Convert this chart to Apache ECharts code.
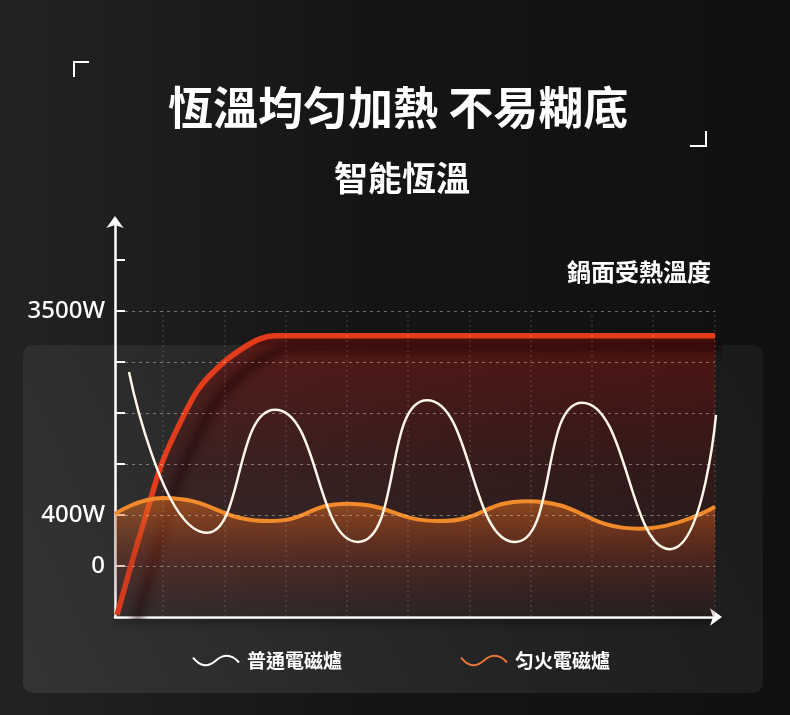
<!DOCTYPE html>
<html>
<head>
<meta charset="utf-8">
<script src="https://cdn.jsdelivr.net/npm/echarts@6/dist/echarts.min.js"></script>
<style>
  html, body { margin: 0; padding: 0; background: #141414; }
  #main { width: 790px; height: 715px; }
</style>
</head>
<body>
<div id="main"></div>
<script>
// 鍋面受熱溫度 (紅線)
var xRed = [2, 19.5, 31, 47, 70, 85, 108, 128, 145, 160, 250, 600];
var yRed = [0.04, 1.25, 2.0, 3.02, 4.0, 4.51, 4.98, 5.27, 5.45, 5.51, 5.51, 5.51];
// 普通電磁爐 (白線)
var xWhite = [14, 92, 160, 243, 312, 400, 467, 555, 601];
var yWhite = [4.80, 1.65, 4.06, 1.47, 4.25, 1.47, 4.20, 1.33, 3.96];
// 匀火電磁爐 (橙線)
var xOrange = [0, 48, 155, 232, 325, 412, 525, 600];
var yOrange = [2.02, 2.33, 1.88, 2.22, 1.88, 2.27, 1.73, 2.16];

var yTicks = [1, 2, 3, 4, 5, 6, 7];
var yLabelValues = [1, 2, 6];
var yLabelText = {1: '0', 2: '400W', 6: '3500W'};
var gridY = [1, 2, 3, 4, 5, 6];
var gridX = [48, 110, 171, 232, 293, 355, 416, 477, 538, 600];

var legendNames = ['普通電磁爐', '匀火電磁爐'];

function pairs(xs, ys) {
    return xs.map(function (x, i) { return [x, ys[i]]; });
}

var chartDom = document.getElementById('main');
var myChart = echarts.init(chartDom);
var cjk = 'Noto Sans CJK TC';
var wave = 'path://M0,3 C8,13 16,13 24,6 C32,-1 40,-1 48,8';

var markData = [];
gridY.forEach(function (v) {
    markData.push([
        {coord: [10, v], lineStyle: {color: 'rgba(255,255,255,0.38)', type: [3, 4], width: 1}},
        {coord: [600, v]}
    ]);
});
gridX.forEach(function (v) {
    markData.push([
        {coord: [v, 0], lineStyle: {color: 'rgba(255,255,255,0.10)', type: [2, 3], width: 2}},
        {coord: [v, 6]}
    ]);
});

var option = {
    animation: false,
    backgroundColor: {
        type: 'linear', x: 0, y: 0, x2: 1, y2: 0,
        colorStops: [
            {offset: 0, color: '#232323'},
            {offset: 0.45, color: '#151515'},
            {offset: 1, color: '#101010'}
        ]
    },
    graphic: [
        {
            type: 'rect', z: -10, silent: true,
            shape: {x: 23, y: 345, width: 740, height: 348, r: 10},
            style: {
                fill: {
                    type: 'linear', x: 0, y: 1, x2: 1, y2: 0,
                    colorStops: [
                        {offset: 0, color: '#343434'},
                        {offset: 0.6, color: '#222222'},
                        {offset: 1, color: '#1a1a1a'}
                    ]
                }
            }
        },
        {
            type: 'polyline', silent: true,
            shape: {points: [[74, 77], [74, 62], [89, 62]]},
            style: {stroke: '#fff', lineWidth: 2, fill: null}
        },
        {
            type: 'polyline', silent: true,
            shape: {points: [[690, 146], [706, 146], [706, 131]]},
            style: {stroke: '#fff', lineWidth: 2, fill: null}
        }
    ],
    title: [
        {
            text: '恆溫均匀加熱 不易糊底', left: 163, top: 80,
            textStyle: {color: '#fff', fontSize: 45, fontWeight: 'bold', fontFamily: cjk}
        },
        {
            text: '智能恆溫', left: 329, top: 156,
            textStyle: {color: '#fff', fontSize: 34, fontWeight: 'bold', fontFamily: cjk}
        },
        {
            text: '鍋面受熱溫度', right: 74, top: 255,
            textStyle: {color: '#fff', fontSize: 24, fontWeight: 'bold', fontFamily: cjk}
        }
    ],
    legend: {
        left: 187, top: 646,
        itemWidth: 46, itemHeight: 12, itemGap: 118,
        selectedMode: false,
        textStyle: {color: '#fff', fontSize: 19, fontWeight: 'bold', fontFamily: cjk, padding: [0, 0, 0, 3]},
        data: [
            {name: legendNames[0], icon: wave, itemStyle: {color: 'transparent', borderColor: '#ffffff', borderWidth: 2}},
            {name: legendNames[1], icon: wave, itemStyle: {color: 'transparent', borderColor: '#e8743a', borderWidth: 2}}
        ]
    },
    grid: {left: 115, right: 72, top: 220, bottom: 98},
    xAxis: {
        type: 'value', min: 0, max: 603,
        axisLine: {
            show: true, symbol: ['none', 'arrow'], symbolSize: [13, 12], symbolOffset: [0, 4],
            lineStyle: {color: '#fff', width: 2.5, shadowColor: 'rgba(0,0,0,0.6)', shadowBlur: 6, shadowOffsetY: 4}
        },
        axisTick: {show: false},
        axisLabel: {show: false},
        splitLine: {show: false}
    },
    yAxis: {
        type: 'value', min: 0, max: 7.78,
        axisLine: {
            show: true, symbol: ['none', 'arrow'], symbolSize: [13, 12], symbolOffset: [0, 4],
            lineStyle: {color: '#fff', width: 2.5}
        },
        axisTick: {show: true, inside: true, length: 10, customValues: yTicks, lineStyle: {color: '#fff', width: 2}},
        axisLabel: {
            customValues: yLabelValues, margin: 10,
            color: '#fff', fontSize: 24, fontWeight: 500, fontFamily: 'Noto Sans',
            formatter: function (v) { return yLabelText[v] || ''; }
        },
        splitLine: {show: false}
    },
    series: [
        {
            name: '鍋面受熱溫度', type: 'line', smooth: 0.3, showSymbol: false, z: 2,
            data: pairs(xRed, yRed),
            lineStyle: {color: '#e23c1c', width: 5.5, shadowColor: 'rgba(25,0,0,0.85)', shadowBlur: 10, shadowOffsetX: 18, shadowOffsetY: 12},
            areaStyle: {
                color: {
                    type: 'linear', x: 0, y: 0, x2: 0, y2: 1,
                    colorStops: [
                        {offset: 0, color: 'rgba(125,16,10,0.8)'},
                        {offset: 0.5, color: 'rgba(85,18,18,0.5)'},
                        {offset: 1, color: 'rgba(70,30,30,0.15)'}
                    ]
                }
            },
            markLine: {silent: true, symbol: ['none', 'none'], label: {show: false}, data: markData}
        },
        {
            name: legendNames[1], type: 'line', smooth: 0.5, showSymbol: false, z: 3,
            data: pairs(xOrange, yOrange),
            lineStyle: {color: '#f08a2a', width: 4},
            areaStyle: {
                color: {
                    type: 'linear', x: 0, y: 0, x2: 0, y2: 1,
                    colorStops: [
                        {offset: 0, color: 'rgba(235,115,30,0.75)'},
                        {offset: 0.5, color: 'rgba(160,55,30,0.45)'},
                        {offset: 1, color: 'rgba(90,40,40,0.05)'}
                    ]
                }
            }
        },
        {
            name: legendNames[0], type: 'line', smooth: 0.55, showSymbol: false, z: 4,
            data: pairs(xWhite, yWhite),
            lineStyle: {color: '#fff6ea', width: 2.5}
        }
    ]
};

option && myChart.setOption(option);
</script>
</body>
</html>
